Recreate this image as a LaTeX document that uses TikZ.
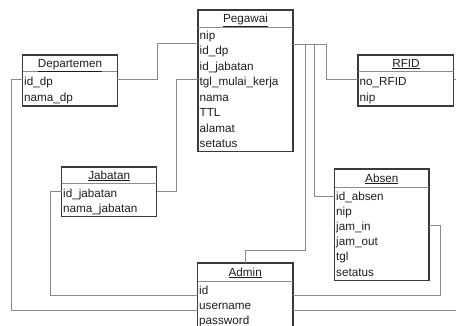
\documentclass[tikz,border=0pt]{standalone}
\usepackage{fontspec}
\setmainfont{Liberation Sans}
\usetikzlibrary{calc}

\definecolor{boxline}{HTML}{3A3A3A}
\definecolor{sepline}{HTML}{8C8C8C}
\definecolor{linkline}{HTML}{8A8A8A}
\definecolor{ink}{HTML}{1E1E1E}

\tikzset{
  tablebox/.style={draw=boxline, line width=1.1pt, fill=white, anchor=north west,
    inner sep=0pt, outer sep=0pt},
  fieldtext/.style={anchor=base west, inner sep=0pt, text=ink,
    font=\fontsize{11.7}{14}\selectfont},
  titletext/.style={anchor=base, inner sep=0pt, text=ink,
    font=\fontsize{11.7}{14}\selectfont},
  link/.style={draw=linkline, line width=0.9pt},
  headsep/.style={draw=sepline, line width=0.8pt},
}

% table: name, left, top, width, height, separator offset
\newcommand{\erTable}[6]{%
  \node[tablebox, minimum width=#4pt, minimum height=#5pt] (#1) at (#2,#3) {};
  \draw[headsep] ($(#1.north west)+(0,#6)$) -- ($(#1.north east)+(0,#6)$);
}

\begin{document}
\begin{tikzpicture}[x=1pt,y=-1pt]
\useasboundingbox (0,0) rectangle (456,325);
\clip (0,0) rectangle (456,325);
\fill[white] (0,0) rectangle (456,325);

% ---------- connectors (behind the tables) ----------
\coordinate (dpEnd) at (456,79.3);
\coordinate (adEnd) at (456,310.7);

% ---------- tables ----------
\erTable{peg}{198}{10}{95}{141.5}{17}
\node[titletext] (pegT) at (245.5,22.5) {\underline{Pegawai}};
\foreach \f [count=\i from 0] in {nip,id\_dp,id\_jabatan,tgl\_mulai\_kerja,nama,TTL,alamat,setatus}
  \node[fieldtext] (peg-\i) at (199.5,{39+15.5*\i}) {\f};

\erTable{dep}{22.7}{55}{94.6}{51}{16.7}
\node[titletext] (depT) at (70,67) {\underline{Departemen}};
\node[fieldtext] (dep-0) at (24,85.5) {id\_dp};
\node[fieldtext] (dep-1) at (24,101.5) {nama\_dp};

\erTable{rfid}{358}{55}{95.7}{51}{16.7}
\node[titletext] (rfidT) at (406,67) {\underline{RFID}};
\node[fieldtext] (rfid-0) at (359.5,85.5) {no\_RFID};
\node[fieldtext] (rfid-1) at (359.5,101.5) {nip};

\erTable{jab}{61.7}{167}{95}{49.3}{16.7}
\node[titletext] (jabT) at (109.2,179) {\underline{Jabatan}};
\node[fieldtext] (jab-0) at (63,197.5) {id\_jabatan};
\node[fieldtext] (jab-1) at (63,212.5) {nama\_jabatan};

\erTable{abs}{334.7}{169}{94.3}{111.3}{18}
\node[titletext] (absT) at (381.8,182) {\underline{Absen}};
\foreach \f [count=\i from 0] in {id\_absen,nip,jam\_in,jam\_out,tgl,setatus}
  \node[fieldtext] (abs-\i) at (336,{200.5+15.1*\i}) {\f};

\erTable{adm}{197.5}{263}{95.5}{80}{18.5}
\node[titletext] (admT) at (245.2,276) {\underline{Admin}};
\foreach \f [count=\i from 0] in {id,username,password}
  \node[fieldtext] (adm-\i) at (199,{294.5+15*\i}) {\f};

% ---------- relationships ----------
% Departemen -- Pegawai
\draw[link] (dep.east |- 0,79.3) -- (157.7,79.3) -- (157.7,43.3) -- (peg.west |- 0,43.3);
% Jabatan -- Pegawai
\draw[link] (jab.east |- 0,191.3) -- (176.7,191.3) -- (176.7,79.3) -- (peg.west |- 0,79.3);
% Departemen -- Admin
\draw[link] (dep.west |- 0,79.3) -- (11.7,79.3) -- (11.7,310.7) -- (adm.west |- 0,310.7);
% Jabatan -- Admin
\draw[link] (jab.west |- 0,191.3) -- (50.7,191.3) -- (50.7,295.7) -- (adm.west |- 0,295.7);
% Pegawai -- RFID
\draw[link] (peg.east |- 0,44) -- (326,44) -- (326,79.3) -- (rfid.west |- 0,79.3);
% Pegawai -- Admin
\draw[link] (peg.east |- 0,44) -- (305,44) -- (305,250) -- (245,250) -- (adm.north -| 245,0);
% Pegawai -- Absen
\draw[link] (peg.east |- 0,44) -- (314,44) -- (314,196.3) -- (abs.west |- 0,196.3);
% Absen -- Admin
\draw[link] (abs.east |- 0,225) -- (440.3,225) -- (440.3,295.5) -- (adm.east |- 0,295.5);
% open ends on the right
\draw[link] (adm.east |- adEnd) -- (adEnd);
\draw[link] (rfid.east |- dpEnd) -- (dpEnd);
\end{tikzpicture}
\end{document}
